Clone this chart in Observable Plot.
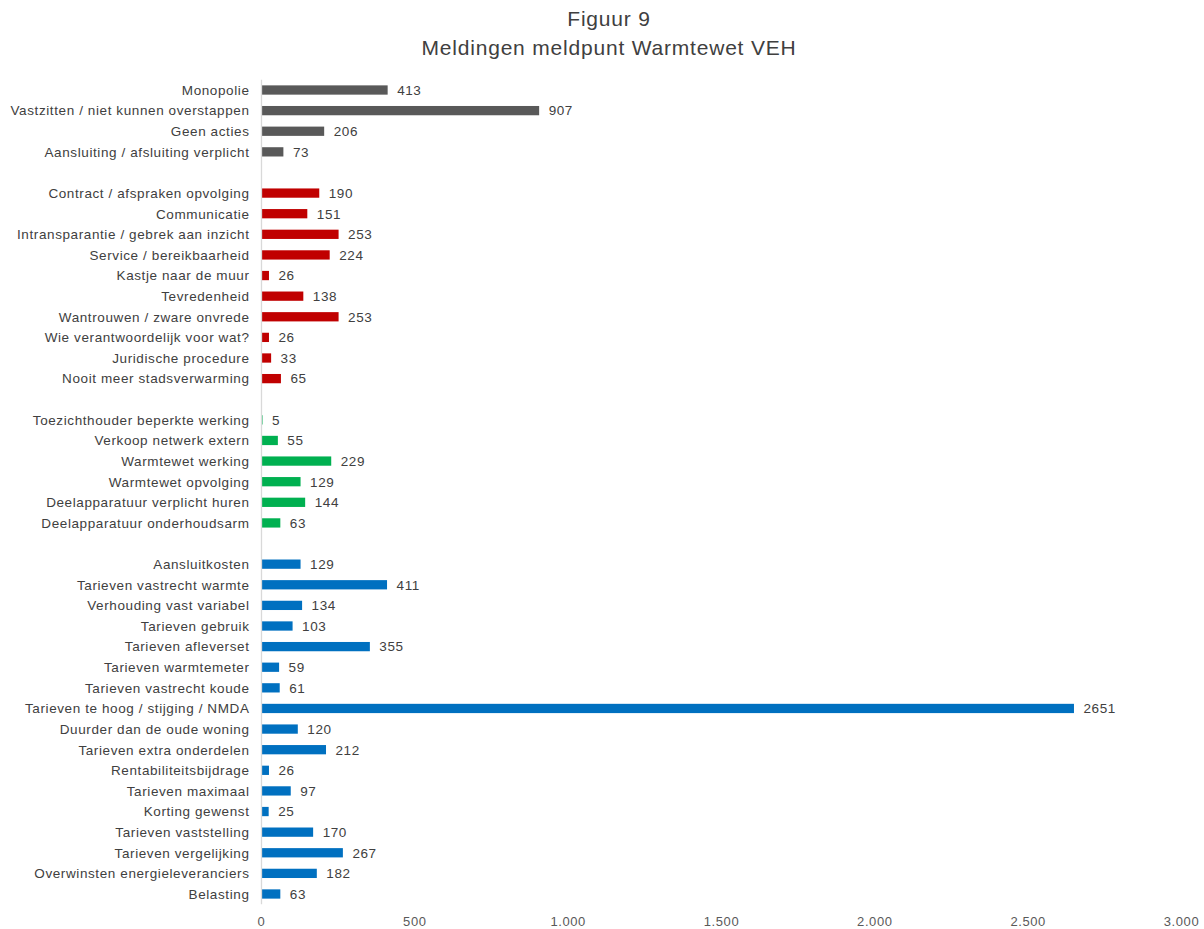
<!DOCTYPE html>
<html>
<head>
<meta charset="utf-8">
<script src="https://cdn.jsdelivr.net/npm/d3@7"></script>
<script src="https://cdn.jsdelivr.net/npm/@observablehq/plot@0.6"></script>
<style>
  html, body { margin: 0; padding: 0; background: #fff; }
  body { width: 1204px; height: 929px; overflow: hidden; font-family: "Liberation Sans", Arial, sans-serif; }
  #title { height: 70px; box-sizing: border-box; padding-top: 4px; padding-left: 14px; text-align: center; color: #404040; font-size: 21px; letter-spacing: 0.8px; line-height: 29px; }
  #chart svg text { letter-spacing: 0.6px; }
</style>
</head>
<body>
<div id="title"><div>Figuur 9</div><div>Meldingen meldpunt Warmtewet VEH</div></div>
<div id="chart"></div>
<script>
const groupA = ["Monopolie", "Vastzitten / niet kunnen overstappen", "Geen acties", "Aansluiting / afsluiting verplicht"];
const valuesA = [413, 907, 206, 73];
const groupB = ["Contract / afspraken opvolging", "Communicatie", "Intransparantie / gebrek aan inzicht", "Service / bereikbaarheid", "Kastje naar de muur", "Tevredenheid", "Wantrouwen / zware onvrede", "Wie verantwoordelijk voor wat?", "Juridische procedure", "Nooit meer stadsverwarming"];
const valuesB = [190, 151, 253, 224, 26, 138, 253, 26, 33, 65];
const groupC = ["Toezichthouder beperkte werking", "Verkoop netwerk extern", "Warmtewet werking", "Warmtewet opvolging", "Deelapparatuur verplicht huren", "Deelapparatuur onderhoudsarm"];
const valuesC = [5, 55, 229, 129, 144, 63];
const groupD = ["Aansluitkosten", "Tarieven vastrecht warmte", "Verhouding vast variabel", "Tarieven gebruik", "Tarieven afleverset", "Tarieven warmtemeter", "Tarieven vastrecht koude", "Tarieven te hoog / stijging / NMDA", "Duurder dan de oude woning", "Tarieven extra onderdelen", "Rentabiliteitsbijdrage", "Tarieven maximaal", "Korting gewenst", "Tarieven vaststelling", "Tarieven vergelijking", "Overwinsten energieleveranciers", "Belasting"];
const valuesD = [129, 411, 134, 103, 355, 59, 61, 2651, 120, 212, 26, 97, 25, 170, 267, 182, 63];
const groupColors = ["#595959", "#c00000", "#00b050", "#0070c0"];
const xTicks = [0, 500, 1000, 1500, 2000, 2500, 3000];

const groups = [[groupA, valuesA], [groupB, valuesB], [groupC, valuesC], [groupD, valuesD]];
const data = [];
const domain = [];
groups.forEach(([cats, vals], gi) => {
  if (gi > 0) domain.push("__gap" + gi);
  cats.forEach((c, i) => {
    data.push({category: c, value: vals[i], color: groupColors[gi]});
    domain.push(c);
  });
});

const fmt = d => d3.format(",")(d).replace(/,/g, ".");

const chart = Plot.plot({
  width: 1204,
  height: 859,
  marginLeft: 261,
  marginRight: 23,
  marginTop: 9.7,
  marginBottom: 24.7,
  style: {fontFamily: "Liberation Sans, Arial, sans-serif", color: "#595959", background: "#fff"},
  x: {domain: [0, 3000], ticks: xTicks, tickFormat: fmt, label: null},
  y: {domain: domain, paddingInner: 0.55, paddingOuter: 0.275, round: false, label: null},
  marks: [
    Plot.barX(data, {x: "value", y: "category", fill: "color"}),
    Plot.ruleX([0], {stroke: "#d9d9d9", strokeWidth: 1.3}),
    Plot.text(data, {x: "value", y: "category", text: d => String(d.value), textAnchor: "start", dx: 9, fontSize: 13.5, fill: "#404040"}),
    Plot.axisX({ticks: xTicks, tickFormat: fmt, tickSize: 0, tickPadding: 12, fontSize: 13, label: null, fill: "#595959"}),
    Plot.axisY({tickSize: 0, tickPadding: 12, fontSize: 13.5, label: null, fill: "#404040", tickFormat: d => d.startsWith("__gap") ? "" : d})
  ]
});
document.getElementById("chart").appendChild(chart);
</script>
</body>
</html>
